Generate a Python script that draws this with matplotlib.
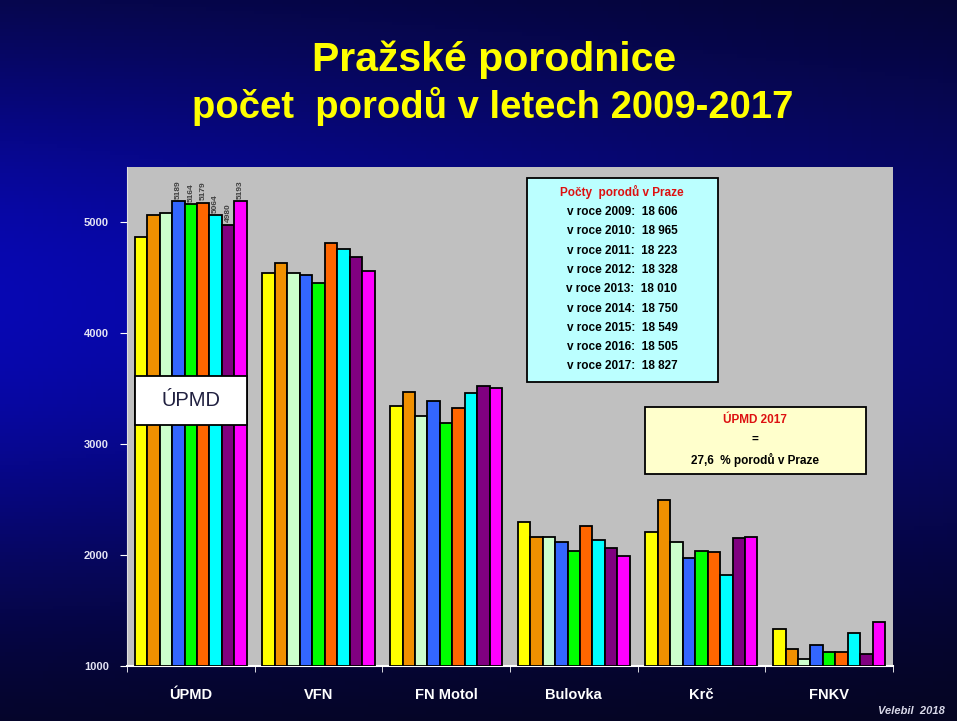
import numpy as np
import matplotlib
matplotlib.use('Agg')
import matplotlib.pyplot as plt

plt.rcParams['font.family'] = ['Liberation Sans', 'DejaVu Sans']

# hospitals and years
hospitals = ['ÚPMD', 'VFN', 'FN Motol', 'Bulovka', 'Krč', 'FNKV']
years = [2009, 2010, 2011, 2012, 2013, 2014, 2015, 2016, 2017]

# births per hospital, one list per year
y2009 = [4871, 4545, 3347, 2297, 2206, 1332]
y2010 = [5066, 4635, 3473, 2167, 2493, 1151]
y2011 = [5088, 4540, 3256, 2167, 2116, 1061]
y2012 = [5189, 4523, 3386, 2119, 1971, 1190]
y2013 = [5164, 4454, 3187, 2041, 2041, 1129]
y2014 = [5179, 4816, 3329, 2261, 2026, 1129]
y2015 = [5064, 4756, 3459, 2134, 1824, 1301]
y2016 = [4980, 4686, 3528, 2062, 2152, 1106]
y2017 = [5193, 4559, 3510, 1989, 2167, 1401]
series = [y2009, y2010, y2011, y2012, y2013, y2014, y2015, y2016, y2017]

colors = ['#FFFF00', '#F09000', '#CCFFCC', '#3366FF', '#00FF00',
          '#FF6600', '#00FFFF', '#800080', '#FF00FF']

# totals for Prague
prague_totals = ['18 606', '18 965', '18 223', '18 328', '18 010',
                 '18 750', '18 549', '18 505', '18 827']

fig = plt.figure(figsize=(9.57, 7.21), dpi=100)

# background gradient
bg = fig.add_axes([0, 0, 1, 1], zorder=-10)
h, w = 200, 200
yy = np.linspace(0, 1, h)[:, None]
xx = np.linspace(0, 1, w)[None, :]
vert = np.exp(-((yy - 0.42) / 0.42) ** 2)
horiz = 1.0 - 0.4 * xx
inten = vert * horiz
img = np.zeros((h, w, 3))
img[..., 0] = 0.02 + 0.01 * inten
img[..., 1] = 0.02 + 0.01 * inten
img[..., 2] = 0.08 + 0.62 * inten
bg.imshow(img, aspect='auto', extent=[0, 1, 0, 1])
bg.set_axis_off()

ax = fig.add_axes([0.1327, 0.0763, 0.8004, 0.6921])
ax.set_facecolor('#C0C0C0')

x = np.arange(len(hospitals))
bw = 0.0975
for i, vals in enumerate(series):
    pos = x + (i - 4) * bw
    ax.bar(pos, np.array(vals) - 1000, bottom=1000, width=bw,
           color=colors[i], edgecolor='black', linewidth=1.3, zorder=3)

# rotated labels on last six ÚPMD bars
for i in range(3, 9):
    v = series[i][0]
    ax.text((i - 4) * bw, v + 20, str(v), rotation=90, ha='center', va='bottom',
            fontsize=6, color='#404040', fontweight='bold', zorder=4)

ax.set_xlim(-0.5, 5.5)
ax.set_ylim(1000, 5500)
ax.set_yticks([1000, 2000, 3000, 4000, 5000])
ax.set_xticks(x)
ax.set_xticklabels(hospitals)
ax.set_xticks(np.arange(-0.5, 6.0, 1.0), minor=True)
ax.tick_params(axis='x', which='major', length=0, pad=16, labelsize=10.5,
               colors='white')
ax.tick_params(axis='x', which='minor', length=4, color='white', direction='out')
ax.tick_params(axis='y', length=5, color='white', direction='out', pad=8,
               labelsize=8, labelcolor='#E4E4F4')
for lab in ax.get_xticklabels() + ax.get_yticklabels():
    lab.set_fontweight('bold')

for s in ['top', 'right']:
    ax.spines[s].set_visible(False)
ax.spines['left'].set_color('#E0E0E0')
ax.spines['bottom'].set_color('white')
ax.spines['bottom'].set_linewidth(1.5)

# ÚPMD label box over the first group
ax.add_patch(plt.Rectangle((-4.5 * bw, 3172), 9 * bw, 443, facecolor='white',
                           edgecolor='black', linewidth=1.3, zorder=5))
ax.text(0, 3393, 'ÚPMD', ha='center', va='center', fontsize=14.5, color='#202040',
        zorder=6)

# info box with Prague totals
lines = ['v roce %d:  %s' % (yr, t) for yr, t in zip(years, prague_totals)]
fig.patches.append(plt.Rectangle((527 / 957, 1 - 382 / 721), 191 / 957, 204 / 721,
                                 transform=fig.transFigure, facecolor='#BBFFFF',
                                 edgecolor='black', linewidth=1.3, zorder=6))
fig.text(622 / 957, 1 - 192 / 721, 'Počty  porodů v Praze', ha='center', va='center',
         fontsize=8.5, fontweight='bold', color='#DD1111', zorder=7)
for k, ln in enumerate(lines):
    fig.text(622 / 957, 1 - (212 + k * 19.3) / 721, ln, ha='center', va='center',
             fontsize=8.5, fontweight='bold', color='black', zorder=7)

# ÚPMD share box
fig.patches.append(plt.Rectangle((645 / 957, 1 - 474 / 721), 221 / 957, 67 / 721,
                                 transform=fig.transFigure, facecolor='#FFFFCC',
                                 edgecolor='black', linewidth=1.3, zorder=6))
fig.text(755 / 957, 1 - 420 / 721, 'ÚPMD 2017', ha='center', va='center',
         fontsize=8.5, fontweight='bold', color='#DD1111', zorder=7)
fig.text(755 / 957, 1 - 440 / 721, '=', ha='center', va='center',
         fontsize=8.5, fontweight='bold', color='black', zorder=7)
fig.text(755 / 957, 1 - 460 / 721, '27,6  % porodů v Praze', ha='center', va='center',
         fontsize=8.5, fontweight='bold', color='black', zorder=7)

# title
fig.text(494 / 957, 1 - 60 / 721, 'Pražské porodnice', ha='center', va='center',
         fontsize=29.5, fontweight='bold', color='#FFFF00')
fig.text(493 / 957, 1 - 106 / 721, 'počet  porodů v letech 2009-2017', ha='center',
         va='center', fontsize=27.5, fontweight='bold', color='#FFFF00')

fig.text(945 / 957, 1 - 711 / 721, 'Velebil  2018', ha='right', va='center',
         fontsize=8, style='italic', fontweight='bold', color='#D8D8E8')

fig.savefig('out.png', dpi=100)
